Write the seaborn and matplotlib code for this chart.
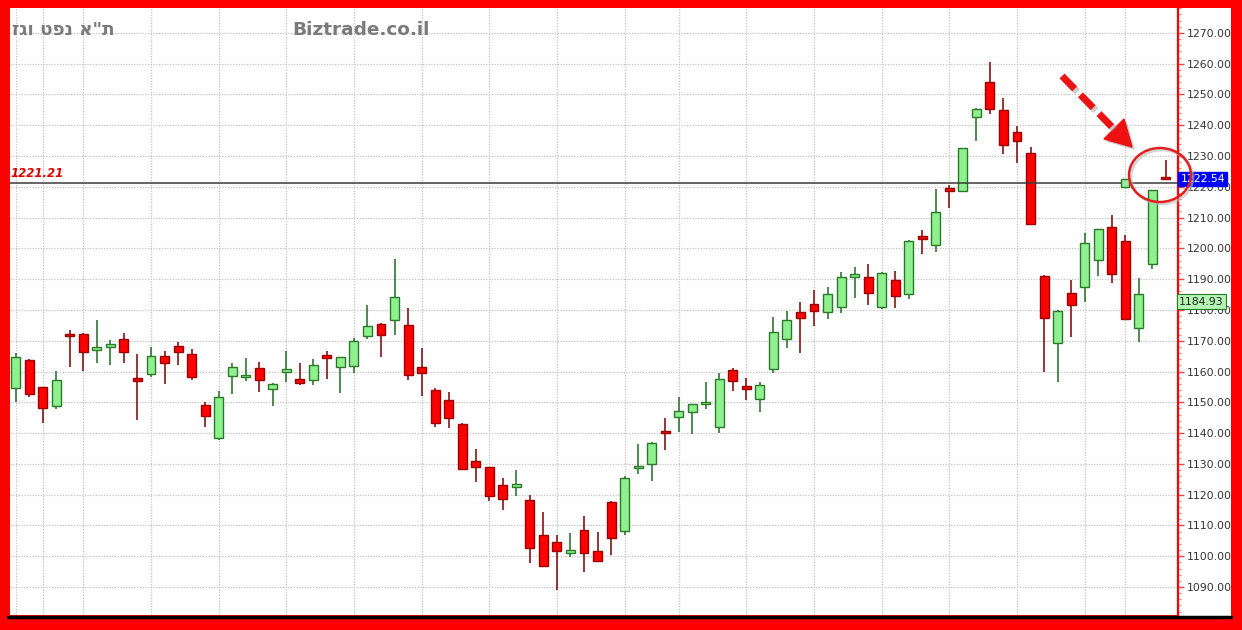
import numpy as np
import pandas as pd
import matplotlib
matplotlib.use("Agg")
import matplotlib.pyplot as plt
import seaborn as sns
from matplotlib.patches import Ellipse, Polygon, Rectangle
from matplotlib.lines import Line2D
from matplotlib.ticker import MultipleLocator, FormatStrFormatter
import matplotlib.patheffects as pe

# datos (velas diarias)
open_ = [1154.6, 1163.8, 1154.9, 1148.8, 1172.2, 1172.2, 1166.9, 1167.9, 1170.6, 1158.0,
         1159.1, 1165.2, 1168.3, 1165.6, 1149.1, 1138.3, 1158.6, 1158.1, 1161.3, 1154.2,
         1159.8, 1157.6, 1157.2, 1165.3, 1161.5, 1161.8, 1171.6, 1175.6, 1176.8, 1175.2,
         1161.6, 1153.9, 1150.9, 1143.1, 1130.8, 1128.9, 1123.2, 1122.5, 1118.3, 1107.0,
         1104.5, 1101.2, 1108.5, 1101.8, 1117.7, 1108.2, 1128.5, 1129.9, 1140.8, 1145.1,
         1147.0, 1149.4, 1142.1, 1160.5, 1155.4, 1151.2, 1160.8, 1170.6, 1179.3, 1182.0,
         1179.5, 1181.1, 1190.7, 1190.6, 1180.8, 1189.8, 1185.1, 1204.1, 1201.1, 1219.7,
         1218.8, 1242.8, 1253.9, 1245.0, 1237.7, 1230.9, 1191.1, 1169.2, 1185.6, 1187.4,
         1196.2, 1207.1, 1202.5, 1174.1, 1194.9, 1223.0]
high = [1165.9, 1164.2, 1155.1, 1160.2, 1173.5, 1172.5, 1176.8, 1170.3, 1172.6, 1165.6,
        1167.9, 1166.7, 1169.5, 1167.2, 1150.2, 1153.8, 1162.9, 1164.3, 1163.0, 1156.3,
        1166.8, 1162.9, 1164.1, 1166.8, 1164.6, 1170.8, 1181.6, 1175.8, 1196.6, 1180.6,
        1167.6, 1154.6, 1153.5, 1143.3, 1134.7, 1129.0, 1125.3, 1128.0, 1119.8, 1114.2,
        1106.9, 1107.5, 1113.1, 1108.0, 1118.0, 1126.1, 1136.5, 1137.2, 1145.0, 1151.6,
        1149.6, 1156.5, 1159.6, 1161.0, 1158.0, 1156.7, 1177.6, 1179.7, 1182.7, 1186.5,
        1187.3, 1192.4, 1193.9, 1194.9, 1192.2, 1192.8, 1202.6, 1206.0, 1219.2, 1220.6,
        1232.6, 1245.5, 1260.5, 1248.8, 1239.8, 1232.9, 1191.3, 1180.0, 1189.8, 1205.1,
        1206.3, 1210.9, 1204.4, 1190.3, 1219.0, 1228.7]
low = [1150.2, 1151.8, 1143.2, 1147.7, 1161.4, 1160.3, 1162.7, 1162.1, 1162.9, 1144.3,
       1158.3, 1156.0, 1162.1, 1157.3, 1141.9, 1137.8, 1152.7, 1157.0, 1153.5, 1148.9,
       1156.7, 1155.6, 1155.6, 1157.5, 1152.9, 1159.4, 1170.6, 1164.8, 1171.9, 1157.3,
       1152.2, 1142.1, 1141.8, 1128.0, 1124.2, 1118.0, 1115.0, 1119.6, 1097.7, 1096.9,
       1089.0, 1099.9, 1095.0, 1098.5, 1100.4, 1106.9, 1126.7, 1124.5, 1134.5, 1140.5,
       1139.7, 1147.8, 1140.1, 1153.8, 1150.8, 1147.0, 1159.4, 1167.8, 1165.9, 1174.8,
       1177.0, 1179.1, 1184.0, 1181.6, 1180.2, 1180.6, 1183.5, 1198.2, 1198.9, 1213.2,
       1218.5, 1235.0, 1243.7, 1230.7, 1227.9, 1207.5, 1160.0, 1156.5, 1171.3, 1182.7,
       1191.1, 1188.7, 1176.8, 1169.7, 1193.2, 1222.2]
close = [1164.6, 1152.6, 1148.1, 1157.3, 1171.6, 1166.3, 1168.1, 1168.9, 1166.3, 1156.9,
         1165.2, 1162.7, 1166.4, 1158.3, 1145.7, 1151.6, 1161.6, 1158.7, 1157.3, 1156.1,
         1160.7, 1156.4, 1162.1, 1164.5, 1164.6, 1169.9, 1174.9, 1171.9, 1184.1, 1158.8,
         1159.4, 1143.2, 1144.8, 1128.3, 1128.9, 1119.4, 1118.6, 1123.3, 1102.8, 1096.9,
         1101.6, 1101.9, 1101.0, 1098.6, 1105.8, 1125.3, 1129.1, 1136.9, 1140.0, 1147.3,
         1149.5, 1150.0, 1157.6, 1157.0, 1154.2, 1155.7, 1172.8, 1176.8, 1177.3, 1179.8,
         1185.1, 1190.8, 1191.7, 1185.6, 1191.9, 1184.6, 1202.5, 1203.2, 1211.7, 1218.8,
         1232.5, 1245.2, 1245.3, 1233.7, 1234.9, 1207.8, 1177.5, 1179.8, 1181.6, 1201.7,
         1206.2, 1191.7, 1177.0, 1185.1, 1219.0, 1222.54]

# lineas verticales de la rejilla (indice de vela)
grid_idx = [0, 2, 5, 10, 15, 20, 25, 30, 35, 40, 45, 49, 54, 59, 64, 69, 74, 79, 82]

title_he = 'ת"א נפט וגז'
site = "Biztrade.co.il"
hline_value = 1221.21
hline_anchor_idx = 82
last_value = 1222.54
other_value = 1184.93

df = pd.DataFrame({"open": open_, "high": high, "low": low, "close": close})
df["idx"] = np.arange(len(df))
df["up"] = df["close"] >= df["open"]
df["bottom"] = df[["open", "close"]].min(axis=1)
df["height"] = (df["close"] - df["open"]).abs().clip(lower=0.7)

sns.set_style("white")
plt.rcParams["font.family"] = ["DejaVu Sans"]

W, H = 1242, 630
fig = plt.figure(figsize=(W / 100, H / 100), dpi=100, facecolor="#ff0000")

def fx(px):
    return px / W

def fy(py):
    return 1 - py / H

# franja blanca para las etiquetas del eje derecho (detras de todo)
fig.patches.append(Rectangle((fx(1178), fy(616)), fx(1231) - fx(1178), fy(8) - fy(616),
                             transform=fig.transFigure, facecolor="white", edgecolor="none", zorder=-5))

ax = fig.add_axes([fx(10), fy(615), fx(1178) - fx(10), fy(8) - fy(615)])
ax.set_facecolor("white")

# rejilla punteada
for v in range(1090, 1280, 10):
    ax.axhline(v, color="#c4c4c4", lw=0.9, ls=(0, (1, 1.2)), zorder=0)
for g in grid_idx:
    ax.axvline(g, color="#c4c4c4", lw=0.9, ls=(0, (1, 1.2)), zorder=0)

# velas
up = df[df["up"]]
dn = df[~df["up"]]
ax.vlines(up["idx"], up["low"], up["high"], color="#1f6b1f", lw=1.1, zorder=2)
ax.vlines(dn["idx"], dn["low"], dn["high"], color="#7a0000", lw=1.1, zorder=2)
ax.bar(up["idx"], up["height"], bottom=up["bottom"], width=0.66,
       color="#8ef08e", edgecolor="#2a7a2a", linewidth=1.0, zorder=3)
ax.bar(dn["idx"], dn["height"], bottom=dn["bottom"], width=0.66,
       color="#ff0000", edgecolor="#9a0000", linewidth=1.0, zorder=3)

# linea horizontal
ax.axhline(hline_value, color="#3a3a3a", lw=1.1, zorder=4)
sns.scatterplot(x=[hline_anchor_idx], y=[hline_value], marker="s", s=30,
                color="#9ee89e", edgecolor="#2a7a2a", linewidth=1.0, ax=ax, zorder=5)
ax.text(-0.35, hline_value + 1.0, f"{hline_value:.2f}", color="#dd0000", fontsize=8.5,
        fontstyle="italic", fontweight="bold", va="bottom", ha="left")

ax.set_xlim(-0.42, 85.9)
ax.set_ylim(1080.9, 1278.1)
ax.set_xticks([])

sns.despine(ax=ax, left=True, top=True, bottom=True, right=False)
ax.yaxis.tick_right()
ax.yaxis.set_major_locator(MultipleLocator(10))
ax.yaxis.set_minor_locator(MultipleLocator(2))
ax.yaxis.set_major_formatter(FormatStrFormatter("%.2f"))
ax.tick_params(axis="y", which="both", right=True, labelright=True, left=False, labelleft=False)
ax.tick_params(axis="y", which="major", length=4, width=1, color="#ff4040",
               labelsize=7.8, labelcolor="#333333", pad=2)
ax.tick_params(axis="y", which="minor", length=2, width=0.8, color="#ff8080")
ax.spines["right"].set_color("#ff0000")
ax.spines["right"].set_linewidth(1.6)

# etiquetas de precio sobre el eje
ytr = ax.get_yaxis_transform()
ax.text(1.002, last_value, f"{last_value:.2f}", transform=ytr, color="white", fontsize=7.8,
        va="center", ha="left", zorder=10,
        bbox=dict(boxstyle="square,pad=0.22", facecolor="#0000ff", edgecolor="#0000ff"))
ax.text(1.001, other_value - 0.6, f"{other_value:.2f}", transform=ytr, color="#222222", fontsize=7.8,
        va="top", ha="left", zorder=10,
        bbox=dict(boxstyle="square,pad=0.22", facecolor="#b4f5b4", edgecolor="#2a7a2a", lw=0.8))

# linea negra inferior
fig.lines.append(Line2D([fx(8), fx(1231)], [fy(616.5), fy(616.5)], transform=fig.transFigure,
                        color="black", lw=2.5))

# titulos (el hebreo se invierte porque matplotlib no hace bidi)
fig.text(fx(12), fy(30), title_he[::-1], color="#7a7a7a", fontsize=13.2, fontweight="bold",
         va="center", ha="left")
fig.text(fx(292), fy(30), site, color="#7a7a7a", fontsize=13.3, fontweight="bold",
         va="center", ha="left")

# flecha roja discontinua
shadow = [pe.SimpleLineShadow(offset=(2, -2), shadow_color="#999999", alpha=0.5), pe.Normal()]
fig.lines.append(Line2D([fx(1062), fx(1112)], [fy(76), fy(127)], transform=fig.transFigure,
                        color="#ee1111", lw=5, ls=(0, (2.6, 1.2)), solid_capstyle="butt",
                        path_effects=shadow))
head = Polygon([(fx(1132), fy(147)), (fx(1104), fy(139)), (fx(1124), fy(119))], closed=True,
               transform=fig.transFigure, facecolor="#ee1111", edgecolor="#ee1111",
               path_effects=[pe.withSimplePatchShadow(offset=(2, -2), shadow_rgbFace="#999999", alpha=0.5)])
fig.patches.append(head)

# circulo
ell_sh = Ellipse((fx(1162), fy(177)), fx(62), 54 / H, transform=fig.transFigure,
                 facecolor="none", edgecolor="#bbbbbb", lw=2.0, alpha=0.6, zorder=0.5)
fig.patches.append(ell_sh)
ell = Ellipse((fx(1160), fy(175)), fx(62), 54 / H, transform=fig.transFigure,
              facecolor="none", edgecolor="#e02020", lw=1.8, zorder=1)
fig.patches.append(ell)

fig.savefig("out.png", dpi=100, facecolor=fig.get_facecolor())
